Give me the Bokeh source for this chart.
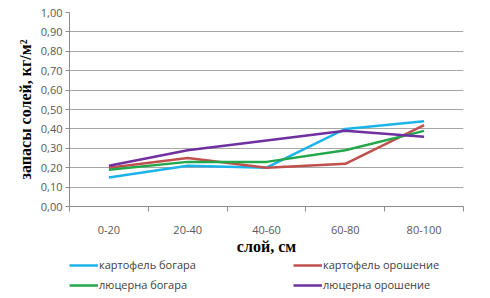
from bokeh.plotting import figure
from bokeh.layouts import column
from bokeh.models import FixedTicker, Legend, LegendItem, ColumnDataSource, Range1d
from bokeh.embed import file_html
from bokeh.resources import INLINE

categories = ["0-20", "20-40", "40-60", "60-80", "80-100"]
kartofel_bogara = [0.15, 0.21, 0.20, 0.40, 0.44]
kartofel_oroshenie = [0.20, 0.25, 0.20, 0.22, 0.42]
lucerna_bogara = [0.19, 0.23, 0.23, 0.29, 0.39]
lucerna_oroshenie = [0.21, 0.29, 0.34, 0.39, 0.36]
series_names = ["картофель богара", "картофель орошение", "люцерна богара", "люцерна орошение"]
y_ticks = [0.0, 0.1, 0.2, 0.3, 0.4, 0.5, 0.6, 0.7, 0.8, 0.9, 1.0]
y_tick_labels = ["0,00", "0,10", "0,20", "0,30", "0,40", "0,50", "0,60", "0,70", "0,80", "0,90", "1,00"]

colors = ["#1CB4E8", "#C0504D", "#22A84A", "#7030A0"]
FONT = "Open Sans"
SERIF = "Liberation Serif"
TICK_COLOR = "#595959"

xs = [i + 0.5 for i in range(len(categories))]

p = figure(width=482, height=256, output_backend="svg", toolbar_location=None,
           x_range=(0, len(categories)), y_range=(0, 1),
           min_border_left=69, min_border_right=19, min_border_top=12, min_border_bottom=10)
p.frame_width = 394
p.frame_height = 194
p.outline_line_color = None
p.background_fill_color = "white"
p.border_fill_color = "white"

# x axis
p.xaxis.ticker = FixedTicker(ticks=xs, minor_ticks=list(range(len(categories) + 1)))
p.xaxis.major_label_overrides = {x: c for x, c in zip(xs, categories)}
p.xaxis.major_tick_line_color = None
p.xaxis.major_tick_out = 0
p.xaxis.major_tick_in = 0
p.xaxis.minor_tick_line_color = "#8c8c8c"
p.xaxis.minor_tick_out = 5
p.xaxis.minor_tick_in = 0
p.xaxis.axis_line_color = "#8c8c8c"
p.xaxis.major_label_standoff = 14
p.xaxis.major_label_text_font = FONT
p.xaxis.major_label_text_font_size = "11px"
p.xaxis.major_label_text_color = TICK_COLOR
p.xaxis.axis_label = "слой, см"
p.xaxis.axis_label_text_font = SERIF
p.xaxis.axis_label_text_font_style = "bold"
p.xaxis.axis_label_text_font_size = "16px"
p.xaxis.axis_label_text_color = "black"
p.xaxis.axis_label_standoff = 1

# y axis
p.yaxis.ticker = FixedTicker(ticks=y_ticks)
p.yaxis.major_label_overrides = {t: l for t, l in zip(y_ticks, y_tick_labels)}
p.yaxis.minor_tick_line_color = None
p.yaxis.major_tick_line_color = "#8c8c8c"
p.yaxis.major_tick_out = 4
p.yaxis.major_tick_in = 0
p.yaxis.axis_line_color = "#8c8c8c"
p.yaxis.major_label_standoff = 3
p.yaxis.major_label_text_font = FONT
p.yaxis.major_label_text_font_size = "11px"
p.yaxis.major_label_text_color = TICK_COLOR
p.yaxis.axis_label = "запасы солей, кг/м²"
p.yaxis.axis_label_text_font = SERIF
p.yaxis.axis_label_text_font_style = "bold"
p.yaxis.axis_label_text_font_size = "16px"
p.yaxis.axis_label_text_color = "black"
p.yaxis.axis_label_standoff = 4

p.xgrid.grid_line_color = None
p.ygrid.ticker = FixedTicker(ticks=y_ticks)
p.ygrid.grid_line_color = "#a6a6a6"
p.ygrid.grid_line_width = 1

data = [kartofel_bogara, kartofel_oroshenie, lucerna_bogara, lucerna_oroshenie]
for vals, col in zip(data, colors):
    src = ColumnDataSource(dict(x=xs, y=vals))
    p.line("x", "y", source=src, line_color=col, line_width=2.5)

# legend strip below the chart
leg_h = 40
p2 = figure(width=482, height=leg_h, output_backend="svg", toolbar_location=None,
            x_axis_location=None, y_axis_location=None,
            x_range=Range1d(0, 1), y_range=Range1d(0, 1),
            min_border_left=69, min_border_right=19, min_border_top=0, min_border_bottom=0)
p2.outline_line_color = None
p2.grid.visible = False
p2.border_fill_color = "white"
p2.background_fill_color = "white"
# single-point key lines: nothing is drawn in the strip, only the legend keys
key_renderers = [p2.line(x=[-1], y=[-1], line_color=c, line_width=2.5) for c in colors]

order = [0, 2, 1, 3]
lg = Legend(items=[LegendItem(label=series_names[i], renderers=[key_renderers[i]]) for i in order],
            ncols=2)
lg.background_fill_alpha = 0
lg.border_line_color = None
lg.label_text_font = FONT
lg.label_text_font_size = "11px"
lg.label_text_color = "#404040"
lg.glyph_width = 29
lg.glyph_height = 12
lg.label_standoff = 1
lg.label_width = 189
lg.label_height = 12
lg.spacing = 5
lg.padding = 0
lg.margin = 0
legend_h = 2 * 15 + 5
lg.location = (0, leg_h - legend_h)
p2.add_layout(lg)

layout = column(p, p2, spacing=0)
open("out.html", "w").write(file_html(layout, INLINE))
